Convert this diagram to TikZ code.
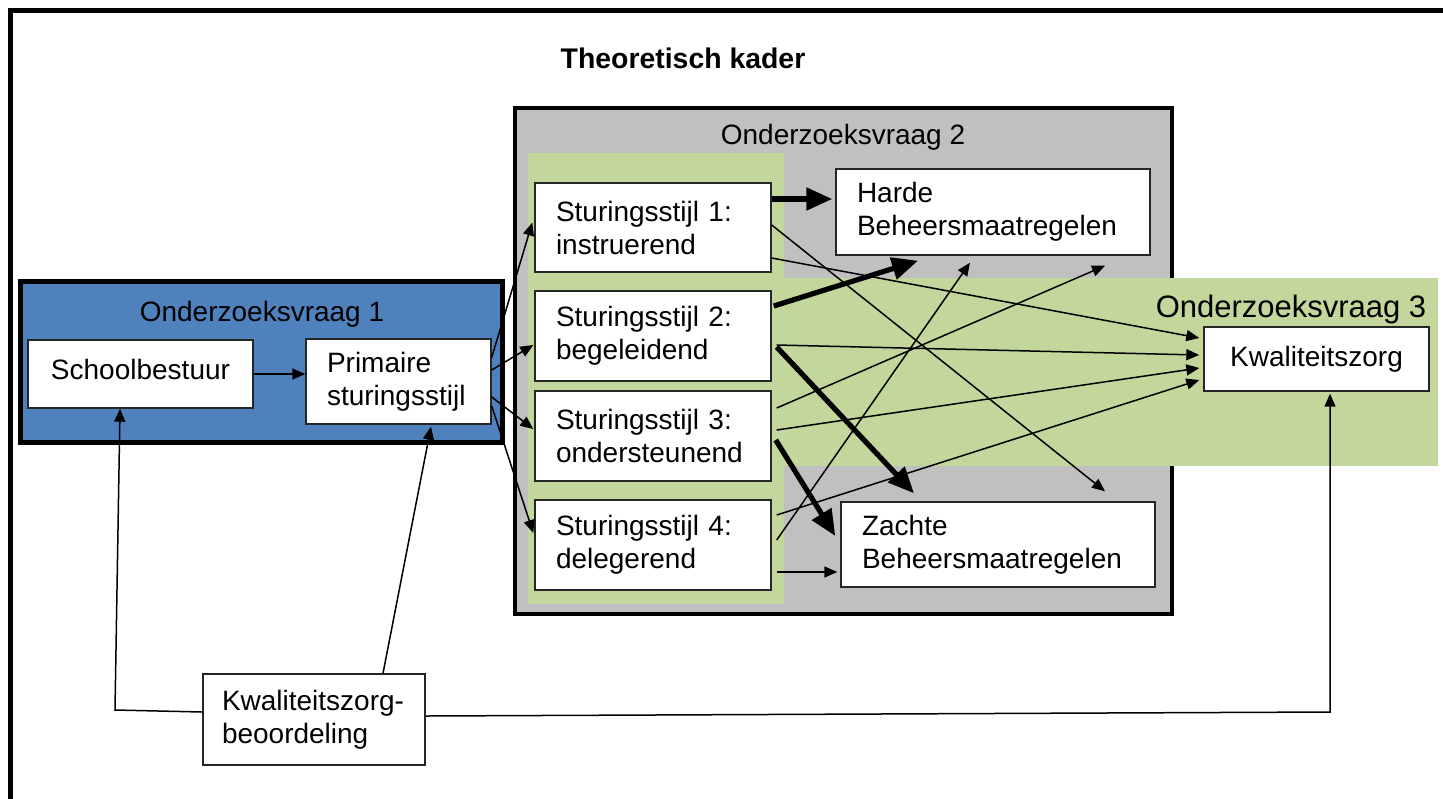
\documentclass[tikz,border=0pt]{standalone}
\usepackage{fontspec}
\setmainfont{Liberation Sans}
\usetikzlibrary{arrows.meta}
\definecolor{ovblue}{HTML}{4F81BD}
\definecolor{ovgray}{HTML}{C0C0C0}
\definecolor{ovgreen}{HTML}{C3D69B}
\begin{document}
\begin{tikzpicture}[x=0.5pt,y=-0.5pt,
  font=\fontsize{14}{16.5}\selectfont,
  box/.style={draw=black!85, line width=0.7pt, fill=white, inner ysep=2pt, inner xsep=10.5pt},
  lbox/.style={box, align=left},
  cbox/.style={box, align=center},
  arr/.style={line width=0.75pt, -{Triangle[length=6.5pt,width=5.5pt]}},
  bigarr/.style={line width=2.6pt, -{Triangle[length=13pt,width=11pt]}},
  ovlabel/.style={inner sep=0pt},
]
\useasboundingbox (0,0) rectangle (1443,798);
% outer frame
\draw[line width=2.5pt] (10,840) -- (10,10) -- (1480,10);
% title
\node[ovlabel, font=\bfseries\fontsize{14.2}{16.5}\selectfont] (title) at (683,58) {Theoretisch kader};
% Onderzoeksvraag 1
\draw[line width=2.5pt, fill=ovblue] (20,281) rectangle (502,442);
\node[ovlabel] (ov1) at (262,314) {Onderzoeksvraag 1};
% Onderzoeksvraag 2
\draw[line width=2pt, fill=ovgray] (515,108) rectangle (1172,614);
\node[ovlabel] (ov2) at (843,137) {Onderzoeksvraag 2};
% green regions
\fill[ovgreen] (528,153) rectangle (784,604);
\fill[ovgreen] (784,278) rectangle (1438,466);
\node[ovlabel, font=\fontsize{15.5}{18}\selectfont] (ov3) at (1291,309) {Onderzoeksvraag 3};
% boxes
\node[cbox, minimum width=112.5pt, minimum height=34pt, text depth=5pt] (sb) at (140.5,374) {Schoolbestuur};
\node[lbox, text width=71.5pt, minimum width=92.5pt, minimum height=42.5pt] (ps) at (398.5,381.5) {Primaire\\sturingsstijl};
\node[lbox, text width=97pt, minimum width=118pt, minimum height=44.5pt] (s1) at (653,227.5) {Sturingsstijl 1:\\instruerend};
\node[lbox, text width=97pt, minimum width=118pt, minimum height=45pt] (s2) at (653,336) {Sturingsstijl 2:\\begeleidend};
\node[lbox, text width=97pt, minimum width=118pt, minimum height=45pt] (s3) at (653,436) {Sturingsstijl 3:\\ondersteunend};
\node[lbox, text width=97pt, minimum width=118pt, minimum height=45pt] (s4) at (653,545) {Sturingsstijl 4:\\delegerend};
\node[lbox, text width=136pt, minimum width=157pt, minimum height=43pt] (hb) at (993,212) {Harde\\Beheersmaatregelen};
\node[lbox, text width=136pt, minimum width=157pt, minimum height=42.5pt] (zb) at (998,544.5) {Zachte\\Beheersmaatregelen};
\node[cbox, minimum width=112.5pt, minimum height=32pt] (kz) at (1316.5,359) {Kwaliteitszorg};
\node[lbox, inner xsep=9.5pt, text width=92pt, minimum width=111pt, minimum height=45.5pt] (kzb) at (314,719.5) {Kwaliteitszorg-\\beoordeling};
% coordinates for bends
\coordinate (c1) at (115,710);
\coordinate (c2) at (1330,712);
% arrows
\draw[arr] (sb.center -| sb.east) -- (sb.center -| ps.west);
\draw[arr] ([shift={(0,-24)}]ps.east) -- ([shift={(-2,-5)}]s1.west);
\draw[arr] ([shift={(0,-11.5)}]ps.east) -- ([shift={(-1,9)}]s2.west);
\draw[arr] ([shift={(0,15.5)}]ps.east) -- ([shift={(-1,-7)}]s3.west);
\draw[arr] ([shift={(0,24.5)}]ps.east) -- ([shift={(-1,-12)}]s4.west);
\draw[bigarr] ([shift={(0,-28.5)}]s1.east) -- ([shift={(-3,-13)}]hb.west);
\draw[arr] ([shift={(0,-2.5)}]s1.east) -- ([shift={(107,-10)}]zb.north);
\draw[arr] ([shift={(0,30.5)}]s1.east) -- ([shift={(-4,-21)}]kz.west);
\draw[bigarr] ([shift={(2,-30)}]s2.east) -- ([shift={(-75,5)}]hb.south);
\draw[arr] ([shift={(5,9)}]s2.east) -- ([shift={(-4,-4)}]kz.west);
\draw[bigarr] ([shift={(5,11)}]s2.east) -- ([shift={(-84,-8)}]zb.north);
\draw[arr] ([shift={(5,-28)}]s3.east) -- ([shift={(112,10)}]hb.south);
\draw[arr] ([shift={(5,-6)}]s3.east) -- ([shift={(-4,9)}]kz.west);
\draw[bigarr] ([shift={(4,4)}]s3.east) -- ([shift={(-5,-8.5)}]zb.west);
\draw[arr] ([shift={(5,-5)}]s4.east) -- ([shift={(-23,7)}]hb.south);
\draw[arr] ([shift={(5,-30)}]s4.east) -- ([shift={(-4,21)}]kz.west);
\draw[arr] ([shift={(5,27)}]s4.east) -- ([shift={(-3,27.5)}]zb.west);
\draw[arr] ([shift={(0,-7.5)}]kzb.west) -- (c1) -- ([shift={(-20.5,0)}]sb.south);
\draw[arr] ([shift={(69,0)}]kzb.north) -- ([shift={(32.5,2)}]ps.south);
\draw[arr] ([shift={(0,-3.5)}]kzb.east) -- (c2) -- ([shift={(13.5,2)}]kz.south);
\end{tikzpicture}
\end{document}
